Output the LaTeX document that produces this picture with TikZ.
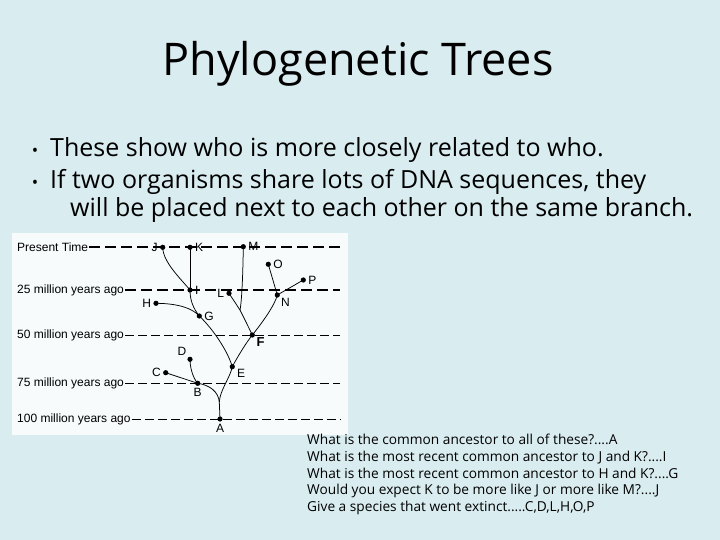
\documentclass[tikz,border=0pt]{standalone}
\usepackage{fontspec}
\setmainfont{Open Sans}
\newfontfamily\arialfont{Liberation Sans}
\definecolor{slide}{HTML}{D9ECF0}
\definecolor{panel}{HTML}{F7FBFC}

\begin{document}
\begin{tikzpicture}[x=1pt,y=-1pt,
  dot/.style={circle,fill=black,inner sep=0pt,minimum size=5.2pt},
  era/.style={font=\arialfont\fontsize{12}{12}\selectfont,inner sep=1pt,anchor=west},
  tag/.style={font=\arialfont\fontsize{12}{12}\selectfont,inner sep=0.5pt,label distance=1.5pt},
  nowline/.style={dash pattern=on 11pt off 5pt,line width=1.6pt},
  pastline/.style={dash pattern=on 9pt off 4pt,line width=0.7pt},
  branch/.style={line width=0.75pt}]

\fill[slide] (0,0) rectangle (720,540);
\useasboundingbox (0,0) rectangle (720,540);

% title and bullets
\node (title) at (358,64) {\fontsize{45}{45}\selectfont Phylogenetic Trees};
\node[anchor=base] (dot1) at (35,157) {\fontsize{17}{17}\selectfont\textbullet};
\node[anchor=base west,inner sep=0pt] (line1) at (50,157) {\fontsize{25}{25}\selectfont These show who is more closely related to who.};
\node[anchor=base] (dot2) at (35,189) {\fontsize{17}{17}\selectfont\textbullet};
\node[anchor=base west,inner sep=0pt] (line2) at (50,189) {\fontsize{25}{25}\selectfont If two organisms share lots of DNA sequences, they};
\node[anchor=base west,inner sep=0pt] (line3) at (70,216) {\fontsize{25}{25}\selectfont will be placed next to each other on the same branch.};

% the tree panel
\fill[panel] (12,233) rectangle (348,435);

% time lines
\node[era] (now) at (16,247) {Present Time};
\node[era] (t25) at (16,290) {25 million years ago};
\node[era] (t50) at (16,335) {50 million years ago};
\node[era] (t75) at (16,383) {75 million years ago};
\node[era] (t100) at (16,419) {100 million years ago};
\coordinate (nowend) at (340,247);
\coordinate (t25end) at (340,290);
\coordinate (t50end) at (340,335);
\coordinate (t75end) at (340,383);
\coordinate (t100end) at (340,419);
\draw[nowline] (now.east) -- (nowend);
\draw[nowline] (t25.east) -- (t25end);
\draw[pastline] (t50.east) -- (t50end);
\draw[pastline] (t75.east) -- (t75end);
\draw[pastline] (t100.east) -- (t100end);

% species
\node[dot,label={[tag]below:A}] (A) at (220,419) {};
\node[dot,label={[tag]below:B}] (B) at (197.7,383.3) {};
\node[dot,label={[tag]left:C}] (C) at (165.7,372.7) {};
\node[dot,label={[tag]135:D}] (D) at (190,359.3) {};
\node[dot,label={[tag]-20:E}] (E) at (232.3,366.7) {};
\node[dot,label={[tag,font=\arialfont\bfseries\fontsize{13}{13}\selectfont]-30:F}] (F) at (252.3,335) {};
\node[dot,label={[tag]right:G}] (G) at (199.3,316) {};
\node[dot,label={[tag]left:H}] (H) at (156,303.3) {};
\node[dot,label={[tag]right:I}] (I) at (190,290) {};
\node[dot,label={[tag]left:J}] (J) at (162.7,247.3) {};
\node[dot,label={[tag]right:K}] (K) at (190,247.3) {};
\node[dot,label={[tag]left:L}] (L) at (229,293.3) {};
\node[dot,label={[tag]-45:N}] (N) at (277.3,295) {};
\node[dot,label={[tag]right:M}] (M) at (243.3,246.7) {};
\node[dot,label={[tag]right:O}] (O) at (268.3,264.3) {};
\node[dot,label={[tag]right:P}] (P) at (303.3,280) {};
\coordinate (ab) at (219.3,402);
\coordinate (lm) at (240,310);

% branches
\draw[branch] (A.center) -- (ab);
\draw[branch] (ab) .. controls (218.5,392) and (210,385) .. (B.center);
\draw[branch] (ab) .. controls (220,390) and (230,378) .. (E.center);
\draw[branch] (B.center) -- (C.center);
\draw[branch] (B.center) .. controls (193,378) and (190,368) .. (D.center);
\draw[branch] (E.center) .. controls (238,356) and (246,343) .. (F.center);
\draw[branch] (E.center) .. controls (228,352) and (214,330) .. (G.center);
\draw[branch] (G.center) .. controls (193,309) and (180,303.5) .. (H.center);
\draw[branch] (G.center) .. controls (193,308) and (190,300) .. (I.center);
\draw[branch] (I.center) -- (K.center);
\draw[branch] (I.center) .. controls (180,278) and (163,262) .. (J.center);
\draw[branch] (F.center) .. controls (248,326) and (243,316) .. (lm);
\draw[branch] (lm) -- (L.center);
\draw[branch] (lm) .. controls (242,300) and (243,270) .. (M.center);
\draw[branch] (F.center) .. controls (262,323) and (275,305) .. (N.center);
\draw[branch] (N.center) -- (O.center);
\draw[branch] (N.center) -- (P.center);

% questions
\node[anchor=north west,align=left,inner sep=0pt,font=\fontsize{13.7}{16.7}\selectfont] (quiz) at (307,434) {What is the common ancestor to all of these?....A\\
What is the most recent common ancestor to J and K?....I\\
What is the most recent common ancestor to H and K?....G\\
Would you expect K to be more like J or more like M?....J\\
Give a species that went extinct.....C,D,L,H,O,P};
\end{tikzpicture}
\end{document}
